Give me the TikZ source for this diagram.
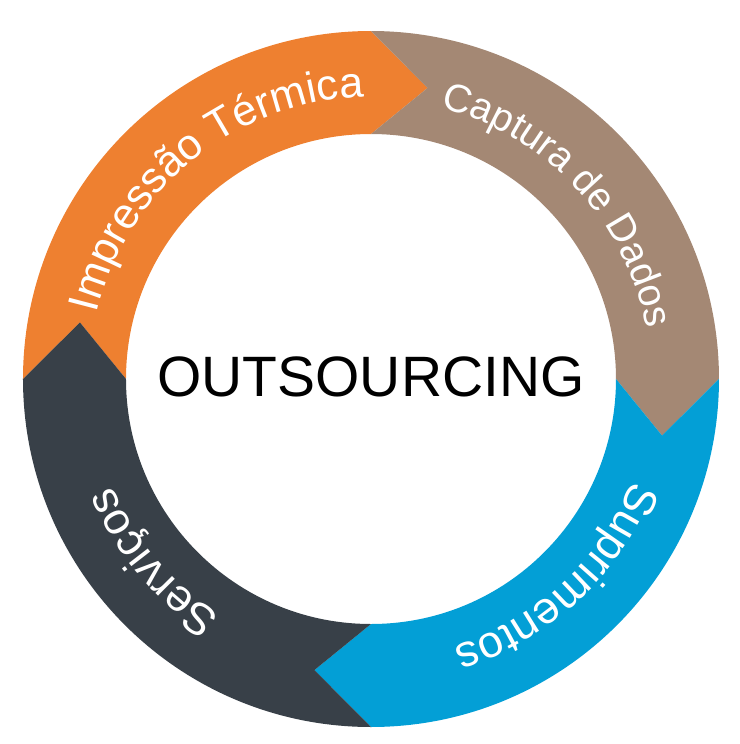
\documentclass[tikz,border=0pt]{standalone}
\usepackage{fontspec}
\setmainfont{Liberation Sans}
\usetikzlibrary{decorations.text}

\definecolor{impcolor}{RGB}{238,128,48}
\definecolor{capcolor}{RGB}{164,136,116}
\definecolor{supcolor}{RGB}{3,159,214}
\definecolor{sercolor}{RGB}{56,64,72}

\newcommand{\arcfont}{\fontsize{12.8}{15}\selectfont}

\begin{document}
\begin{tikzpicture}[
    ringlabel/.style={postaction={decorate},
      decoration={text along path,text align=center,text color=white,text={#1}}}
  ]
  \useasboundingbox (-3.71,-3.65) rectangle (3.69,3.79);

  % four chevrons, clockwise
  \foreach \s/\col in {180/impcolor,90/capcolor,0/supcolor,-90/sercolor}
    \fill[\col] (\s:3.48) arc[start angle=\s,end angle=\s-90,radius=3.48]
      -- (\s-101:2.965) -- (\s-90:2.45)
      arc[start angle=\s-90,end angle=\s,radius=2.45]
      -- (\s-11:2.965) -- cycle;

  \path[ringlabel={|\fontsize{12.3}{15}\selectfont|Impressão Térmica}]
    (179:2.82) arc[start angle=179,end angle=79,radius=2.82];
  \path[ringlabel={|\fontsize{11.2}{14}\selectfont|Captura de Dados}]
    (93:2.8) arc[start angle=93,end angle=-7,radius=2.8];
  \path[ringlabel={|\arcfont|Suprimentos}]
    (3:2.8) arc[start angle=3,end angle=-97,radius=2.8];
  \path[ringlabel={|\arcfont|Serviços}]
    (-90:2.8) arc[start angle=-90,end angle=-190,radius=2.8];

  \node (core) at (0,0.02) {\fontsize{16.2}{19}\selectfont OUTSOURCING};
\end{tikzpicture}
\end{document}
